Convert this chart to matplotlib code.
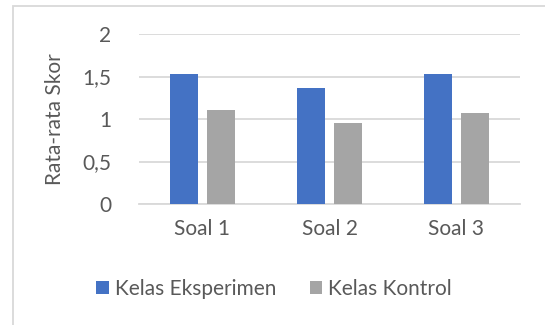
import numpy as np
import matplotlib
matplotlib.use("Agg")
import matplotlib.pyplot as plt
from matplotlib.patches import Rectangle

# data
categories = ["Soal 1", "Soal 2", "Soal 3"]
eksperimen = [1.53, 1.37, 1.53]
kontrol = [1.11, 0.95, 1.07]
series_labels = ["Kelas Eksperimen", "Kelas Kontrol"]
y_ticks = [0, 0.5, 1, 1.5, 2]
y_tick_labels = ["0", "0,5", "1", "1,5", "2"]

plt.rcParams['font.family'] = ['Lato', 'DejaVu Sans']
text_color = "#595959"
grid_color = "#d9d9d9"
fs = 15

fig = plt.figure(figsize=(5.45, 3.25), dpi=100)
ax = fig.add_axes([139/545, 1-204/325, (520-139)/545, (204-34)/325])

X = np.arange(len(categories))
w = 0.22
b1 = ax.bar(X - 0.142, eksperimen, width=w, color="#4472C4", zorder=3)
b2 = ax.bar(X + 0.146, kontrol, width=w, color="#A5A5A5", zorder=3)

ax.set_xlim(-0.5, len(categories) - 0.5)
ax.set_ylim(0, 2)
ax.set_yticks(y_ticks)
ax.set_yticklabels(y_tick_labels)
ax.set_xticks(X)
ax.set_xticklabels(categories)
ax.tick_params(axis='both', length=0, labelsize=fs, colors=text_color)
ax.tick_params(axis='y', pad=20)
ax.tick_params(axis='x', pad=11)
ax.yaxis.grid(True, color=grid_color, linewidth=1.3, zorder=0)
for s in ["top", "right", "left"]:
    ax.spines[s].set_visible(False)
ax.spines["bottom"].set_color(grid_color)
ax.spines["bottom"].set_linewidth(1.3)

ax.set_ylabel("Rata-rata Skor", fontsize=fs, color=text_color)
ax.yaxis.set_label_coords(-(139-65)/381, 0.5)

fig.legend([b1, b2], series_labels, loc="center", bbox_to_anchor=(0.503, 1-289/325),
           ncol=2, frameon=False, fontsize=fs, labelcolor=text_color,
           handlelength=0.6, handleheight=0.6, handletextpad=0.3, columnspacing=1.6)

# chart border (cut off at right and bottom)
fig.patches.append(Rectangle((12.5/545, -0.1), 1.2, 1 - 5.5/325 + 0.1,
                             transform=fig.transFigure, fill=False,
                             edgecolor=grid_color, linewidth=1.3))

fig.savefig("out.png", dpi=100)
